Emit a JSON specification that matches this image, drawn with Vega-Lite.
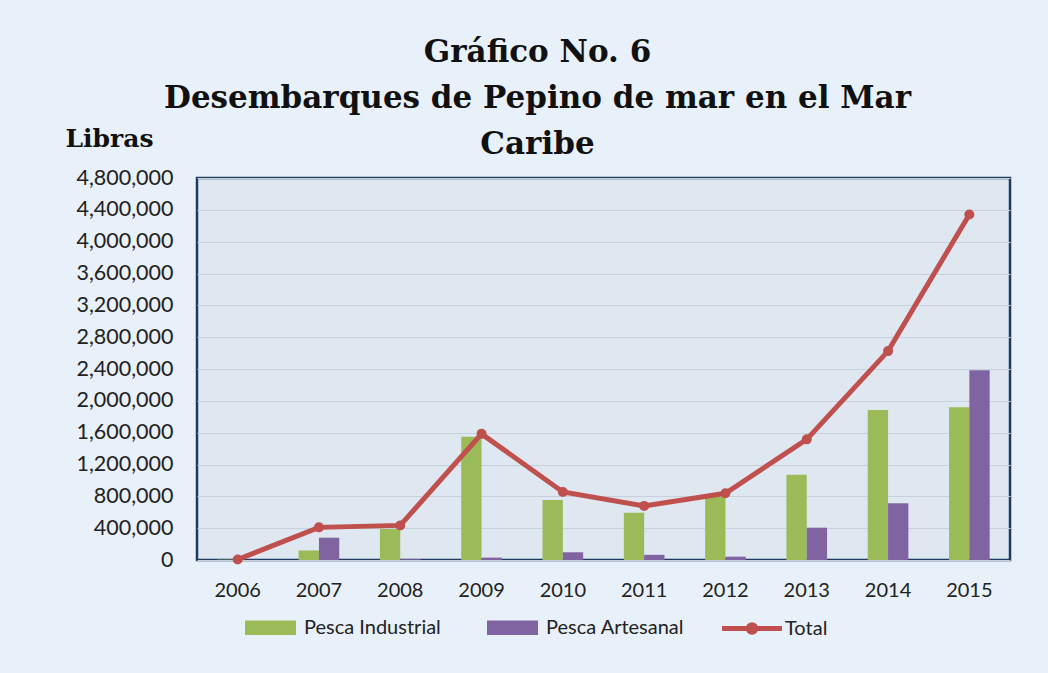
{
  "$schema": "https://vega.github.io/schema/vega-lite/v6.json",
  "width": 813,
  "height": 382,
  "autosize": {"type": "none"},
  "padding": {"left": 197, "top": 178, "right": 38, "bottom": 113},
  "background": "#e8f0f9",
  "title": {
    "text": ["Gráfico No. 6", "Desembarques de Pepino de mar en el Mar", "Caribe"],
    "font": "DejaVu Serif",
    "fontSize": 31,
    "fontWeight": "bold",
    "color": "#111111",
    "lineHeight": 46,
    "anchor": "middle",
    "frame": "group",
    "dx": -66,
    "offset": -35
  },
  "config": {
    "view": {"fill": "#dfe7f1", "stroke": "#1f3a5f", "strokeWidth": 2.5},
    "axis": {"labelFont": "Lato", "labelFontSize": 20, "labelColor": "#222222", "ticks": false, "domain": false},
    "legend": {"labelFont": "Lato", "labelFontSize": 20, "labelColor": "#222222"}
  },
  "datasets": {
    "barras": [
      {"anio": "2006", "serie": "Pesca Industrial", "libras": 4000},
      {"anio": "2006", "serie": "Pesca Artesanal", "libras": 2000},
      {"anio": "2007", "serie": "Pesca Industrial", "libras": 120000},
      {"anio": "2007", "serie": "Pesca Artesanal", "libras": 280000},
      {"anio": "2008", "serie": "Pesca Industrial", "libras": 390000},
      {"anio": "2008", "serie": "Pesca Artesanal", "libras": 10000},
      {"anio": "2009", "serie": "Pesca Industrial", "libras": 1550000},
      {"anio": "2009", "serie": "Pesca Artesanal", "libras": 30000},
      {"anio": "2010", "serie": "Pesca Industrial", "libras": 755000},
      {"anio": "2010", "serie": "Pesca Artesanal", "libras": 97000},
      {"anio": "2011", "serie": "Pesca Industrial", "libras": 595000},
      {"anio": "2011", "serie": "Pesca Artesanal", "libras": 65000},
      {"anio": "2012", "serie": "Pesca Industrial", "libras": 795000},
      {"anio": "2012", "serie": "Pesca Artesanal", "libras": 42000},
      {"anio": "2013", "serie": "Pesca Industrial", "libras": 1072000},
      {"anio": "2013", "serie": "Pesca Artesanal", "libras": 406000},
      {"anio": "2014", "serie": "Pesca Industrial", "libras": 1884000},
      {"anio": "2014", "serie": "Pesca Artesanal", "libras": 712000},
      {"anio": "2015", "serie": "Pesca Industrial", "libras": 1918000},
      {"anio": "2015", "serie": "Pesca Artesanal", "libras": 2383000}
    ],
    "total": [
      {"anio": "2006", "serie": "Total", "libras": 6000},
      {"anio": "2007", "serie": "Total", "libras": 410000},
      {"anio": "2008", "serie": "Total", "libras": 435000},
      {"anio": "2009", "serie": "Total", "libras": 1585000},
      {"anio": "2010", "serie": "Total", "libras": 855000},
      {"anio": "2011", "serie": "Total", "libras": 680000},
      {"anio": "2012", "serie": "Total", "libras": 838000},
      {"anio": "2013", "serie": "Total", "libras": 1516000},
      {"anio": "2014", "serie": "Total", "libras": 2625000},
      {"anio": "2015", "serie": "Total", "libras": 4342000}
    ]
  },
  "encoding": {
    "x": {
      "field": "anio",
      "type": "ordinal",
      "scale": {"paddingInner": 0, "paddingOuter": 0},
      "axis": {"title": null, "labelAngle": 0, "labelPadding": 20, "grid": false}
    },
    "y": {
      "field": "libras",
      "type": "quantitative",
      "scale": {"domain": [0, 4800000], "nice": false},
      "axis": {
        "title": "Libras",
        "values": [0, 400000, 800000, 1200000, 1600000, 2000000, 2400000, 2800000, 3200000, 3600000, 4000000, 4400000, 4800000],
        "labelExpr": "format(datum.value, ',')",
        "labelOverlap": false,
        "labelFontSize": 21.5,
        "labelPadding": 24,
        "gridColor": "#c7d1dd",
        "gridWidth": 1,
        "titleAngle": 0,
        "titleAlign": "left",
        "titleBaseline": "alphabetic",
        "titleX": -132,
        "titleY": -32,
        "titleFont": "DejaVu Serif",
        "titleFontSize": 25,
        "titleFontWeight": "bold",
        "titleColor": "#111111"
      }
    }
  },
  "layer": [
    {
      "data": {"name": "barras"},
      "mark": {"type": "bar"},
      "encoding": {
        "xOffset": {
          "field": "serie",
          "type": "nominal",
          "sort": ["Pesca Industrial", "Pesca Artesanal"],
          "scale": {"paddingOuter": 1.14, "paddingInner": 0}
        },
        "fill": {
          "field": "serie",
          "type": "nominal",
          "scale": {"domain": ["Pesca Industrial", "Pesca Artesanal"], "range": ["#9bbb59", "#8064a2"]},
          "legend": {
            "title": null,
            "orient": "none",
            "direction": "horizontal",
            "legendX": 48,
            "legendY": 424,
            "symbolType": "M-1,-0.28L1,-0.28L1,0.28L-1,0.28Z",
            "symbolSize": 2601,
            "symbolStrokeWidth": 0,
            "labelOffset": 8,
            "columnPadding": 46
          }
        }
      }
    },
    {
      "data": {"name": "total"},
      "mark": {"type": "line", "strokeWidth": 5},
      "encoding": {
        "stroke": {
          "field": "serie",
          "type": "nominal",
          "scale": {"domain": ["Total"], "range": ["#c0504d"]},
          "legend": {
            "title": null,
            "orient": "none",
            "direction": "horizontal",
            "legendX": 525,
            "legendY": 420.5,
            "symbolType": "M-1,-0.05L1,-0.05L1,0.05L-1,0.05Z M0.18,0A0.18,0.18 0 1 1 -0.18,0A0.18,0.18 0 1 1 0.18,0Z",
            "symbolSize": 3364,
            "symbolStrokeWidth": 2,
            "labelOffset": 3,
            "symbolFillColor": "#c0504d"
          }
        }
      }
    },
    {
      "data": {"name": "total"},
      "mark": {"type": "point", "filled": true, "size": 100, "color": "#c0504d", "opacity": 1}
    }
  ]
}
